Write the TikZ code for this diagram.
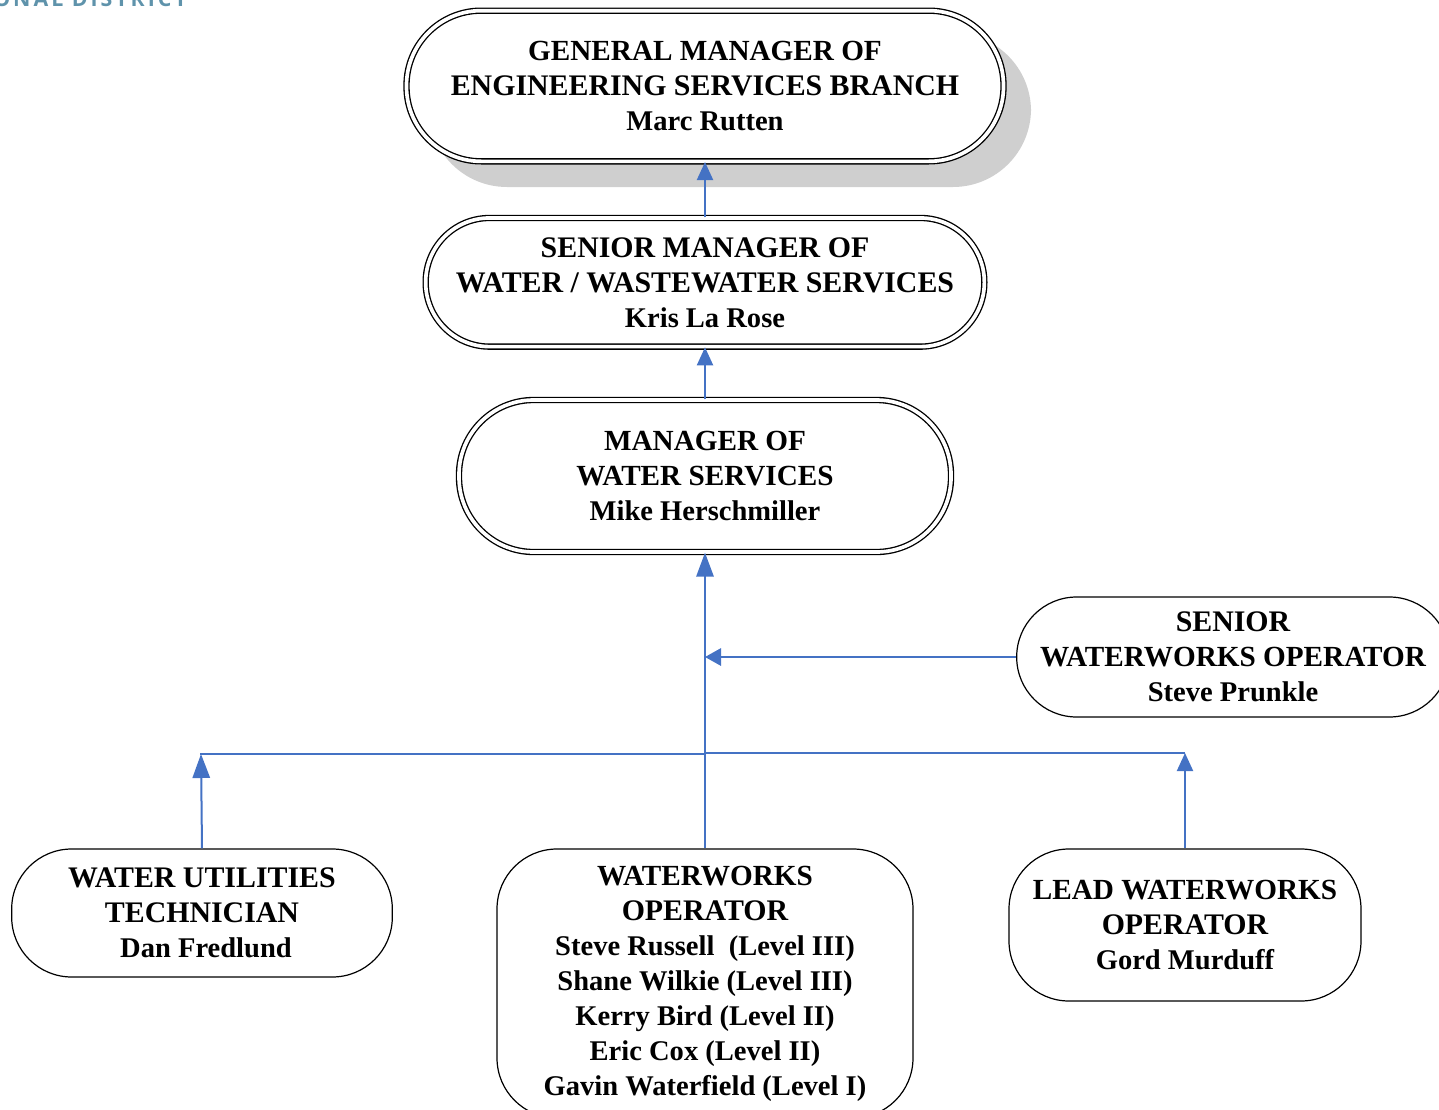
\documentclass[tikz,border=0pt]{standalone}
\usepackage{fontspec}
\setmainfont{Liberation Serif}
\newfontfamily\logofont[LetterSpace=14]{Open Sans}
\usetikzlibrary{arrows.meta}
\definecolor{linkblue}{HTML}{4472C4}
\definecolor{shadowgray}{HTML}{CFCFCF}
\definecolor{logoblue}{HTML}{5F93AB}
\newcommand{\nm}[1]{{\fontsize{21.4}{26.25}\selectfont #1}}
\newcommand{\cp}[1]{{\fontsize{21.9}{26.25}\selectfont #1}}
\tikzset{
  x=0.75pt,y=-0.75pt,
  pill/.style={draw=black,fill=white,line width=0.9pt,rounded corners=#1,align=center,inner sep=0pt,
    font=\fontsize{22.4}{26.25}\selectfont\bfseries},
  dpill/.style={pill=#1,line width=1pt,double=white,double distance=2.75pt,draw=black},
  link/.style={draw=linkblue,line width=1.5pt},
  tipsmall/.style={-{Triangle[length=13.5pt,width=12pt]}},
  tipbig/.style={-{Triangle[length=18pt,width=13pt]}},
  tipside/.style={-{Triangle[length=12pt,width=13pt]}},
}
\begin{document}
\begin{tikzpicture}
\useasboundingbox (0,0) rectangle (1439,1110);
\clip (0,0) rectangle (1439,1110);
% logo fragment
\node[anchor=base west,inner sep=0pt,text=logoblue,font=\logofont\fontsize{16}{16}\selectfont\bfseries] (logo) at (-7,7) {ONAL DISTRICT};
% shadow
\fill[shadowgray,rounded corners=58.5pt] (429,33) rectangle (1031,187);
% boxes
\node[dpill=56pt,minimum width=447.75pt,minimum height=113pt] (gm) at (705,86) {\cp{GENERAL MANAGER OF}\\ENGINEERING SERVICES BRANCH\\\nm{Marc Rutten}};
\node[dpill=48pt,minimum width=419pt,minimum height=96.5pt] (sm) at (705,282.3) {SENIOR MANAGER OF\\WATER / WASTEWATER SERVICES\\\nm{Kris La Rose}};
\node[dpill=56pt,minimum width=369pt,minimum height=114pt] (mgr) at (705,476) {\cp{MANAGER OF}\\\cp{WATER SERVICES}\\\nm{Mike Herschmiller}};
\node[pill=45pt,minimum width=324.5pt,minimum height=90pt] (swo) at (1233,657) {SENIOR\\\cp{WATERWORKS OPERATOR}\\\nm{Steve Prunkle}};
\node[pill=45pt,minimum width=285.5pt,minimum height=96pt] (wut) at (202,913) {WATER UTILITIES\\TECHNICIAN\\\hspace*{6pt}\nm{Dan Fredlund}};
\node[pill=45pt,minimum width=312pt,minimum height=201.75pt] (wwo) at (705,983.5) {\cp{WATERWORKS}\\OPERATOR\\\nm{Steve Russell\ \ (Level III)}\\\nm{Shane Wilkie (Level III)}\\\nm{Kerry Bird (Level II)}\\\nm{Eric Cox (Level II)}\\\nm{Gavin Waterfield (Level I)}};
\node[pill=45pt,minimum width=264pt,minimum height=114pt] (lwo) at (1185,925) {\cp{LEAD WATERWORKS}\\OPERATOR\\\nm{Gord Murduff}};
% junctions
\coordinate (jleft) at (201,754);
\coordinate (jmid) at (705,754);
\coordinate (jmid2) at (705,753);
\coordinate (jright) at (1185,753);
\coordinate (jside) at (705,657);
% connectors
\draw[link,tipsmall] (sm.north) -- (gm.south);
\draw[link,tipsmall] (mgr.north) -- (sm.south);
\draw[link,tipbig] (wwo.north) -- (mgr.south);
\draw[link,tipside] (swo.west) -- (jside);
\draw[link,shorten <=-0.75pt] (jleft) -- (jmid);
\draw[link] (jmid2) -- (jright);
\draw[link,tipbig] (wut.north) -- ([xshift=-0.75pt]wut.north |- jleft);
\draw[link,tipsmall] (lwo.north) -- (jright);
\end{tikzpicture}
\end{document}
